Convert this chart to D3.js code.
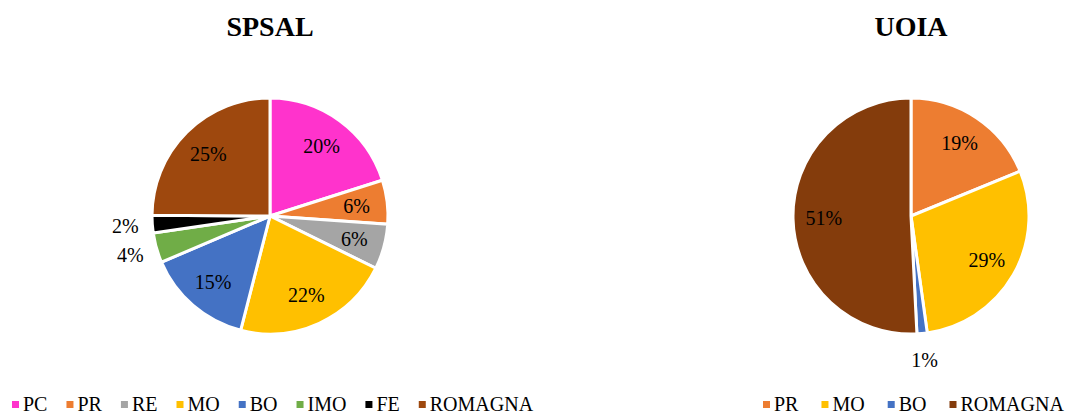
<!DOCTYPE html>
<html>
<head>
<meta charset="utf-8">
<script src="https://cdn.jsdelivr.net/npm/d3@7"></script>
<style>
  body { margin: 0; background: #fff; }
  svg text { font-family: "Liberation Serif", "Times New Roman", serif; fill: #000; }
</style>
</head>
<body>
<svg id="chart" width="1074" height="416"></svg>
<script>
// SPSAL shares (%)
var spsalCategories = ["PC", "PR", "RE", "MO", "BO", "IMO", "FE", "ROMAGNA"];
var spsalValues = [20.1, 6.0, 6.2, 21.7, 14.6, 4.1, 2.4, 24.9];
var spsalColors = ["#FF33CC", "#ED7D31", "#A5A5A5", "#FFC000", "#4472C4", "#70AD47", "#000000", "#9E480E"];

// UOIA shares (%)
var uoiaCategories = ["PR", "MO", "BO", "ROMAGNA"];
var uoiaValues = [18.8, 29.0, 1.4, 50.8];
var uoiaColors = ["#ED7D31", "#FFC000", "#4472C4", "#843C0C"];

var svg = d3.select("#chart");
var radius = 118;

function drawPie(title, categories, values, colors, cx, cy, legendX, legendGap) {
    var data = categories.map(function(c, i) { return {name: c, value: values[i], color: colors[i]}; });

    var pie = d3.pie()
        .sort(null)
        .value(function(d) { return d.value; });

    var arc = d3.arc().innerRadius(0).outerRadius(radius);
    var labelArc = d3.arc().innerRadius(radius * 0.74).outerRadius(radius * 0.74);
    var outerArc = d3.arc().innerRadius(radius + 27).outerRadius(radius + 27);

    // title
    svg.append("text")
        .attr("x", cx)
        .attr("y", 36)
        .attr("text-anchor", "middle")
        .style("font-size", "28px")
        .style("font-weight", "bold")
        .text(title);

    var g = svg.append("g")
        .attr("transform", "translate(" + cx + "," + cy + ")");

    var arcs = pie(data);

    g.selectAll("path")
        .data(arcs)
        .enter().append("path")
        .attr("d", arc)
        .attr("fill", function(d) { return d.data.color; })
        .attr("stroke", "#fff")
        .attr("stroke-width", 3);

    g.selectAll("text.lbl")
        .data(arcs)
        .enter().append("text")
        .attr("class", "lbl")
        .attr("transform", function(d) {
            var c = d.data.value < 5 ? outerArc.centroid(d) : labelArc.centroid(d);
            return "translate(" + c + ")";
        })
        .attr("text-anchor", "middle")
        .attr("dy", "0.35em")
        .style("font-size", "20px")
        .text(function(d) { return Math.round(d.data.value) + "%"; });

    // legend
    var lg = svg.append("g");
    var x = legendX;
    data.forEach(function(d) {
        lg.append("rect")
            .attr("x", x)
            .attr("y", 401)
            .attr("width", 7)
            .attr("height", 7)
            .attr("fill", d.color);
        var t = lg.append("text")
            .attr("x", x + 11)
            .attr("y", 411)
            .style("font-size", "20px")
            .text(d.name);
        x += 11 + t.node().getComputedTextLength() + legendGap;
    });
}

drawPie("SPSAL", spsalCategories, spsalValues, spsalColors, 270, 216, 12, 19);
drawPie("UOIA", uoiaCategories, uoiaValues, uoiaColors, 911, 216, 763, 23);
</script>
</body>
</html>
